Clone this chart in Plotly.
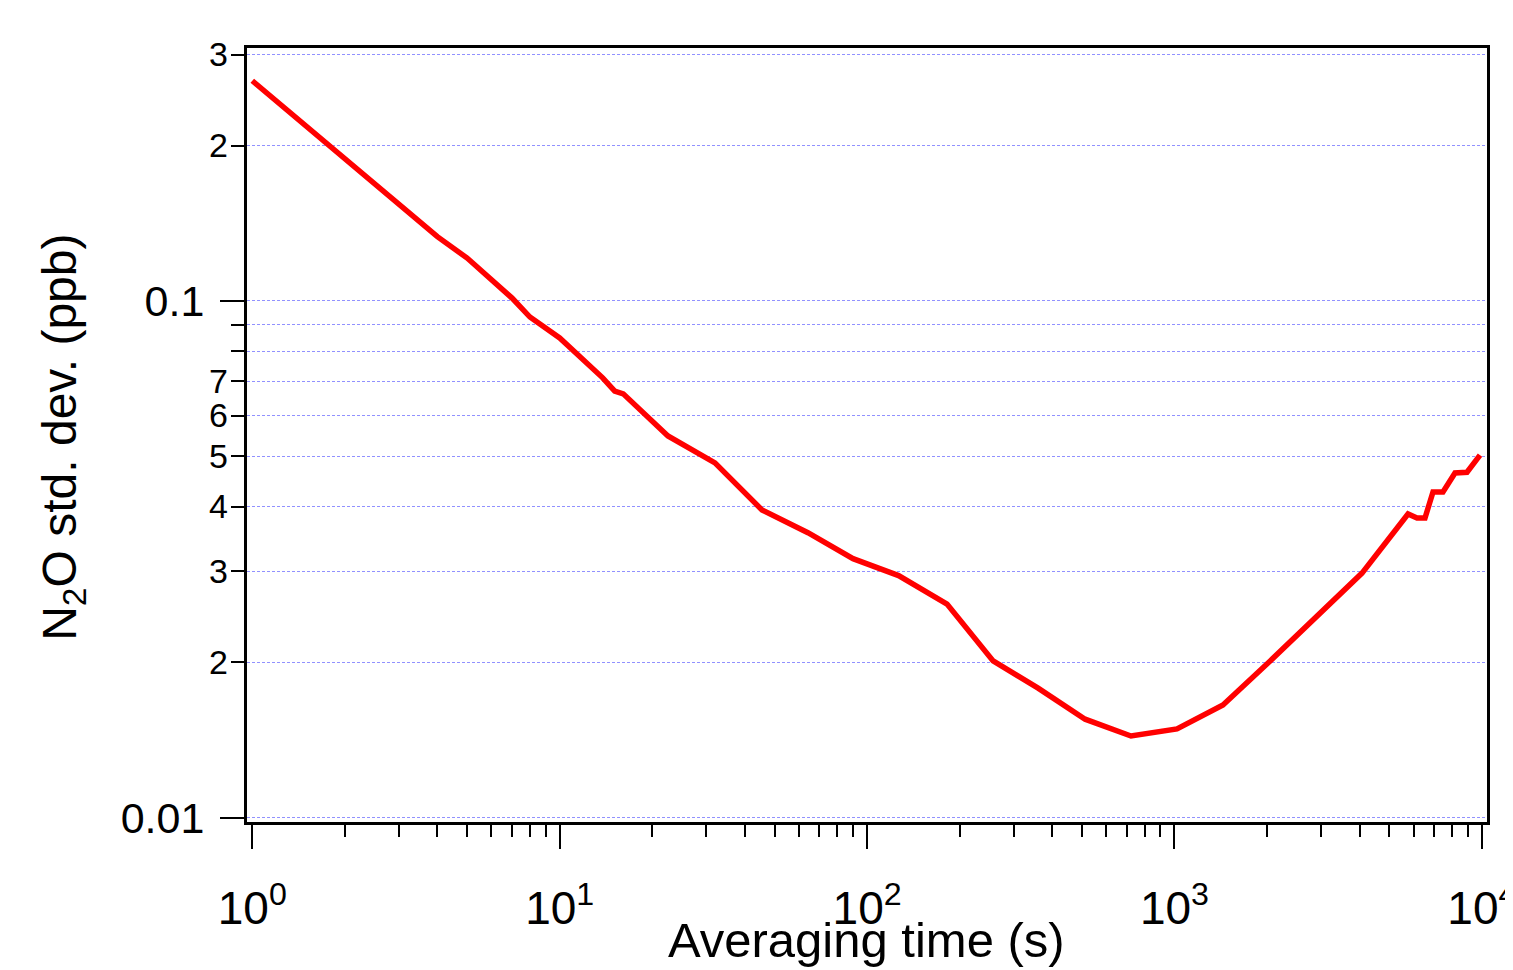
import plotly.graph_objects as go

# Data (Allan deviation style plot)
avg_time_s = [1, 4, 5, 7, 8, 10, 13.8, 15.1, 16.1, 22.5, 32, 45.5, 64.2, 90, 126.6,
              182, 257, 360, 512, 722, 1019, 1438, 2048, 2896, 4074, 5750, 6150,
              6530, 6933, 7470, 8175, 8944, 9860]
n2o_std_ppb = [0.2669, 0.1332, 0.1211, 0.1013, 0.0931, 0.0848, 0.0710, 0.0669, 0.0661,
               0.0548, 0.0486, 0.0394, 0.0356, 0.0317, 0.0294, 0.0259, 0.0201, 0.0178,
               0.0155, 0.01438, 0.01484, 0.01651, 0.0201, 0.02444, 0.02973, 0.0387,
               0.0380, 0.0380, 0.0427, 0.0427, 0.04645, 0.0466, 0.0503]

x_major_vals = [1, 10, 100, 1000, 10000]
x_major_text = ["10<sup>0</sup>", "10<sup>1</sup>", "10<sup>2</sup>", "10<sup>3</sup>", "10<sup>4</sup>"]
x_minor_vals = [m * 10 ** e for e in range(4) for m in range(2, 10)]

y_major_vals = [0.01, 0.1]
y_major_text = ["0.01", "0.1"]
y_minor_vals = [0.02, 0.03, 0.04, 0.05, 0.06, 0.07, 0.08, 0.09, 0.2, 0.3]
y_label_vals = [0.02, 0.03, 0.04, 0.05, 0.06, 0.07, 0.2, 0.3]
y_label_text = ["2", "3", "4", "5", "6", "7", "2", "3"]

FONT = "Liberation Sans, Arial, Helvetica, sans-serif"
GRID = "rgb(145,145,255)"
XR = [-0.0172, 4.0166]
YR = [-2.0087, -0.5102]

fig = go.Figure()
fig.add_trace(go.Scatter(x=avg_time_s, y=n2o_std_ppb, mode="lines",
                         line=dict(color="#ff0000", width=5.5), showlegend=False))
# invisible trace for secondary label axis
fig.add_trace(go.Scatter(x=[avg_time_s[0]], y=[n2o_std_ppb[0]], yaxis="y2", mode="lines",
                         line=dict(width=0), showlegend=False, hoverinfo="skip"))

fig.update_layout(
    template="none",
    width=1505, height=962,
    margin=dict(l=239, r=26, t=40, b=148, autoexpand=False),
    paper_bgcolor="white", plot_bgcolor="white",
    font=dict(family=FONT, color="black"),
    xaxis=dict(type="log", range=XR, tickmode="array", tickvals=x_major_vals,
               ticktext=x_major_text, ticks="outside", ticklen=24, tickwidth=2,
               tickcolor="black", showline=True, linewidth=3, linecolor="black",
               mirror=True, showgrid=False, zeroline=False, automargin=False,
               ticklabelstandoff=20, ticklabeloverflow="allow",
               tickfont=dict(size=46, family=FONT, color="black"),
               minor=dict(tickmode="array", tickvals=x_minor_vals, ticks="outside",
                          ticklen=12, tickwidth=2, tickcolor="black", showgrid=False)),
    yaxis=dict(type="log", range=YR, tickmode="array", tickvals=y_major_vals,
               ticktext=y_major_text, ticks="outside", ticklen=24, tickwidth=2,
               tickcolor="black", showline=True, linewidth=3, linecolor="black",
               mirror=True, showgrid=True, gridcolor=GRID, gridwidth=1,
               griddash="3px,2px", zeroline=False, ticklabelstandoff=7,
               automargin=False,
               tickfont=dict(size=43, family=FONT, color="black"),
               minor=dict(tickmode="array", tickvals=y_minor_vals, ticks="outside",
                          ticklen=13, tickwidth=2, tickcolor="black", showgrid=True,
                          gridcolor=GRID, gridwidth=1, griddash="3px,2px")),
    yaxis2=dict(type="log", range=YR, overlaying="y", side="left", anchor="x",
                tickmode="array", tickvals=y_label_vals, ticktext=y_label_text,
                ticks="", showline=False, showgrid=False, zeroline=False,
                ticklabelstandoff=18, automargin=False,
                tickfont=dict(size=34, family=FONT, color="black")),
    annotations=[
        dict(text="Averaging time (s)", xref="paper", yref="paper", x=0.4995, y=-0.1525,
             xanchor="center", yanchor="middle", showarrow=False,
             font=dict(size=49, family=FONT, color="black")),
        dict(text="N<sub>2</sub>O std. dev. (ppb)", xref="paper", yref="paper",
             x=-0.148, y=0.497, xanchor="center", yanchor="middle", textangle=-90,
             showarrow=False, font=dict(size=48, family=FONT, color="black")),
    ],
)

fig.write_html("out.html")
